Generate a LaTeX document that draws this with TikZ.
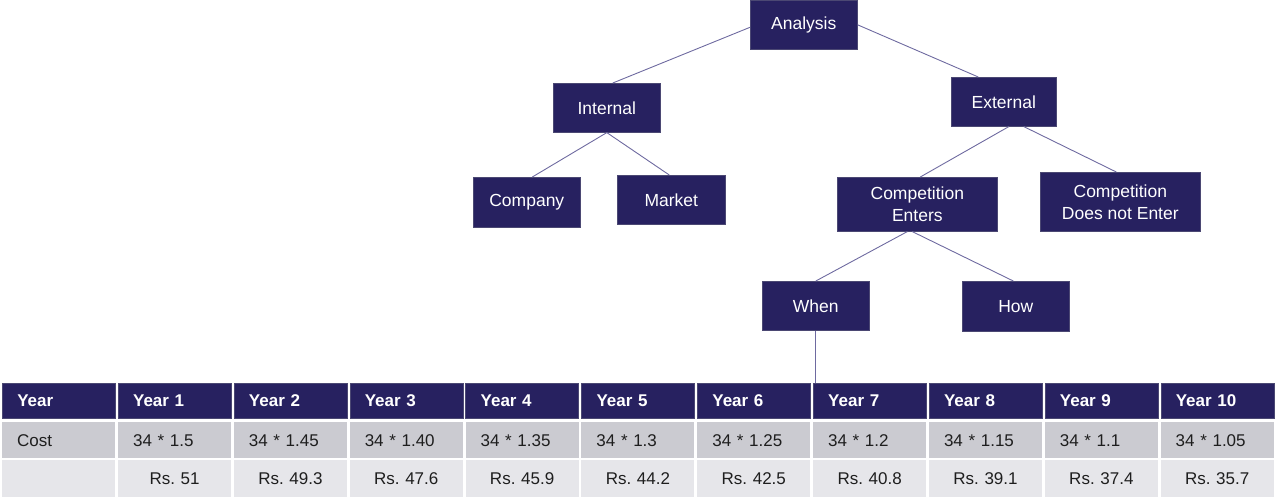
\documentclass[tikz,border=0pt]{standalone}
\usepackage{fontspec}
\setmainfont{Liberation Sans}
\frenchspacing
\definecolor{navy}{RGB}{39,33,96}
\definecolor{edgeline}{RGB}{110,106,160}
\definecolor{boxline}{RGB}{75,72,115}
\definecolor{rowA}{RGB}{203,203,209}
\definecolor{rowB}{RGB}{230,230,234}
\definecolor{celltext}{RGB}{30,30,30}
\begin{document}
\begin{tikzpicture}[x=1pt,y=-1pt,
  box/.style={draw=boxline, line width=0.6pt, fill=navy, text=white,
    font=\fontsize{17.5}{22}\selectfont, align=center, inner sep=0pt, anchor=north west},
  link/.style={draw=edgeline, line width=0.9pt},
  hcell/.style={fill=navy, draw=boxline, line width=0.5pt, text=white,
    font=\fontsize{17}{20}\selectfont\bfseries, minimum height=35pt, text width=83pt,
    inner xsep=15pt, inner ysep=0pt, align=left, anchor=north west},
  acell/.style={fill=rowA, text=celltext, font=\fontsize{17}{20}\selectfont,
    minimum height=36pt, text width=83pt, inner xsep=15pt, inner ysep=0pt,
    align=left, anchor=north west},
  bcell/.style={fill=rowB, text=celltext, font=\fontsize{17}{20}\selectfont,
    minimum height=37pt, text width=83pt, inner xsep=15pt, inner ysep=0pt,
    align=center, anchor=north west}]
\useasboundingbox (0,0) rectangle (1280,501);

% tree boxes
\node[box, minimum width=107pt, minimum height=49pt] (analysis) at (750,0) {Analysis};
\node[box, minimum width=107pt, minimum height=49pt] (internal) at (553,83) {Internal};
\node[box, minimum width=105pt, minimum height=49pt] (external) at (951,77) {External};
\node[box, minimum width=107pt, minimum height=50pt] (company) at (473,177) {Company};
\node[box, minimum width=108pt, minimum height=49pt] (market) at (617,175) {Market};
\node[box, minimum width=160pt, minimum height=54pt] (enters) at (837,177) {Competition\\Enters};
\node[box, minimum width=160pt, minimum height=59pt] (notenter) at (1040,172) {Competition\\Does not Enter};
\node[box, minimum width=107pt, minimum height=49pt] (when) at (762,281) {When};
\node[box, minimum width=107pt, minimum height=50pt] (how) at (962,281) {How};

% table
\foreach \i/\t/\c/\r in {0/Year/Cost/,
  1/Year 1/34 * 1.5/Rs. 51,
  2/Year 2/34 * 1.45/Rs. 49.3,
  3/Year 3/34 * 1.40/Rs. 47.6,
  4/Year 4/34 * 1.35/Rs. 45.9,
  5/Year 5/34 * 1.3/Rs. 44.2,
  6/Year 6/34 * 1.25/Rs. 42.5,
  7/Year 7/34 * 1.2/Rs. 40.8,
  8/Year 8/34 * 1.15/Rs. 39.1,
  9/Year 9/34 * 1.1/Rs. 37.4,
  10/Year 10/34 * 1.05/Rs. 35.7}{
  \pgfmathsetmacro\xl{2+115.85*\i}
  \node[hcell] (h\i) at (\xl,383) {\t};
  \node[acell] (a\i) at (\xl,422) {\c};
  \node[bcell] (b\i) at (\xl,460) {\r};
}

% connectors
\draw[link] ([yshift=-2.5pt]analysis.west) -- ([xshift=6pt]internal.north);
\draw[link] (analysis.east) -- ([xshift=-25.5pt]external.north);
\draw[link] (internal.south) -- ([xshift=5.5pt]company.north);
\draw[link] (internal.south) -- ([xshift=-2pt]market.north);
\draw[link] ([xshift=5pt]external.south) -- ([xshift=3pt]enters.north);
\draw[link] ([xshift=20pt]external.south) -- ([xshift=-4pt]notenter.north);
\draw[link] ([xshift=-10pt]enters.south) -- (when.north);
\draw[link] ([xshift=-5pt]enters.south) -- ([xshift=-2.5pt]how.north);
\draw[link] (when.south) -- (when.south |- h7.north);
\end{tikzpicture}
\end{document}
